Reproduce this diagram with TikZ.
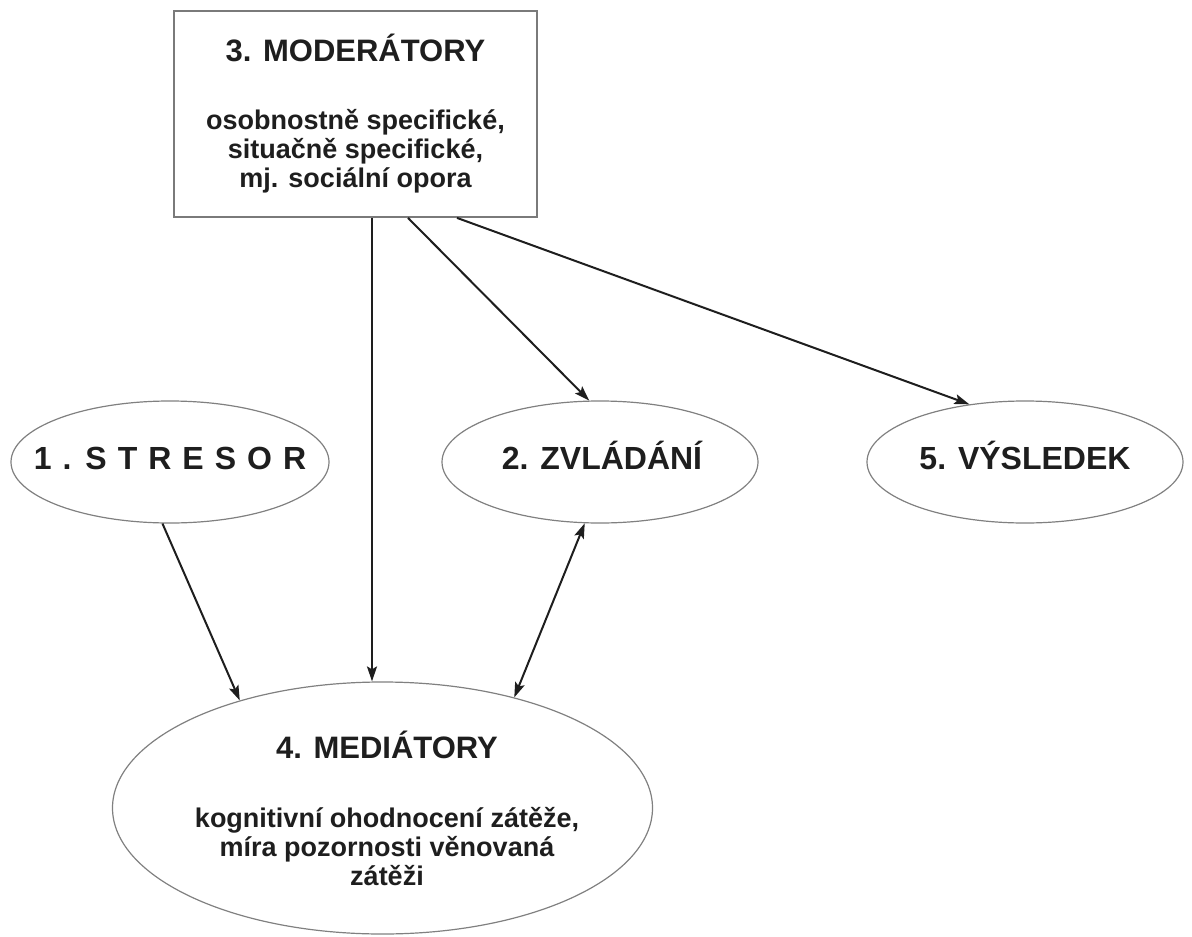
\documentclass[tikz,border=0pt]{standalone}
\usepackage{fontspec}
\setmainfont{Liberation Sans}
\usetikzlibrary{shapes.geometric,arrows.meta}
\definecolor{ovalgray}{HTML}{808080}
\definecolor{boxgray}{HTML}{7A7A7A}
\definecolor{ink}{HTML}{1E1E1E}

\begin{document}
\begin{tikzpicture}[x=1pt,y=-1pt,
  >={Stealth[length=15pt,width=10pt,inset=3pt]},
  oval/.style={draw=ovalgray, ellipse, line width=1.2pt, inner sep=0pt},
  heading/.style={font=\fontsize{32}{36}\selectfont\bfseries, text=ink},
  body/.style={align=center, text=ink, font=\fontsize{27}{29}\selectfont\bfseries},
  link/.style={draw=ink, line width=2pt}]
\useasboundingbox (0,0) rectangle (1192,937);
\node[draw=boxgray, line width=1.8pt, minimum width=363pt, minimum height=206pt, body] (3) at (355.5,114)
  {{\fontsize{31}{29}\selectfont 3. MODERÁTORY}\\[39pt]
   osobnostně specifické,\\
   situačně specifické,\\
   mj. sociální opora};
\node[oval, minimum width=318pt, minimum height=122pt] (1) at (170,462) {};
\node[oval, minimum width=316pt, minimum height=122pt] (2) at (600,462) {};
\node[oval, minimum width=316pt, minimum height=122pt] (5) at (1025,462) {};
\node[oval, minimum width=540pt, minimum height=252pt] (4) at (382.5,808) {};
\node[heading, anchor=base] (1t) at (170,469) {{\spaceskip=11pt 1 . S T R E S O R}};
\node[heading, anchor=base] (2t) at (602,469) {2. ZVLÁDÁNÍ};
\node[heading, anchor=base] (5t) at (1025,469) {5. VÝSLEDEK};
\node[body] (4t) at (387,808)
  {{\fontsize{31}{29}\selectfont 4. MEDIÁTORY}\\[40pt]
   kognitivní ohodnocení zátěže,\\
   míra pozornosti věnovaná\\
   zátěži};
\coordinate (drop) at ([xshift=16.5pt]3.south);
\path[link,->] (drop) -- (drop |- 4.north);
\path[link,->] ([xshift=52.5pt]3.south) -- (2.100);
\path[link,->] ([xshift=101.5pt]3.south) -- (5.134);
\path[link,->] (1.-97) -- (4.143);
\path[link,<->] (2.-104) -- (4.40);
\end{tikzpicture}
\end{document}
